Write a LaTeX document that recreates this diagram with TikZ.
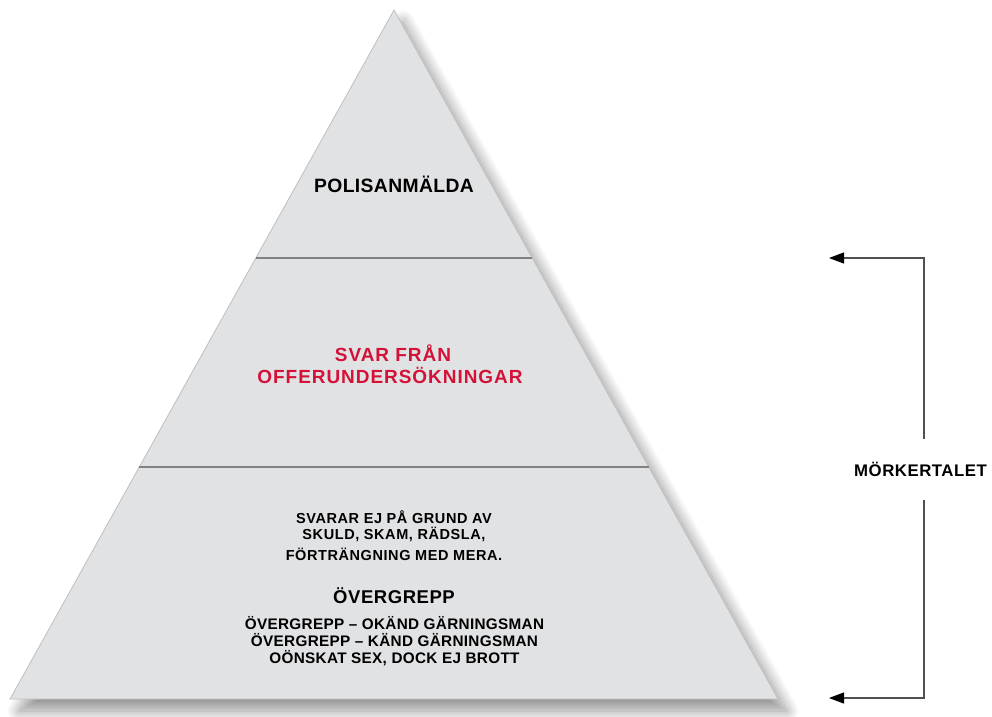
\documentclass[tikz,border=0pt]{standalone}
\usepackage{fontspec}
\setmainfont{Liberation Sans}
\usetikzlibrary{shadows.blur,arrows.meta}
\definecolor{pyrfill}{RGB}{225,226,228}
\definecolor{pyredge}{RGB}{190,191,193}
\definecolor{divgray}{RGB}{128,129,131}
\definecolor{arrgray}{RGB}{80,80,80}
\definecolor{txtred}{RGB}{212,18,56}
\tikzset{
  pyramid/.style={fill=pyrfill, draw=pyredge, line width=0.8pt,
    blur shadow={shadow xshift=9pt, shadow yshift=-12pt, shadow blur radius=12pt, shadow blur steps=24, shadow opacity=42}},
  divider/.style={draw=divgray, line width=2.8pt},
  lbl/.style={inner sep=0pt, anchor=base, font=\bfseries},
  sz19/.style={font=\fontsize{19.3}{22}\selectfont\bfseries\addfontfeature{LetterSpace=2}},
  szred/.style={font=\fontsize{19}{22}\selectfont\bfseries\addfontfeature{LetterSpace=5}, text=txtred},
  szsmall/.style={font=\fontsize{14.5}{17}\selectfont\bfseries\addfontfeature{LetterSpace=4}},
  szmid/.style={font=\fontsize{18.5}{22}\selectfont\bfseries\addfontfeature{LetterSpace=3}},
  szlist/.style={font=\fontsize{15.3}{17}\selectfont\bfseries\addfontfeature{LetterSpace=2}},
  szside/.style={font=\fontsize{16.8}{20}\selectfont\bfseries\addfontfeature{LetterSpace=3}},
  arrline/.style={draw=arrgray, line width=1.2pt},
  arrtip/.style={arrline, -{Triangle[length=15pt,width=11pt,fill=black,color=black]}}
}
\begin{document}
\begin{tikzpicture}[x=1pt,y=-1pt]
\useasboundingbox (0,0) rectangle (992,716);
% pyramid
\coordinate (apex) at (394,10);
\coordinate (bl) at (10,699);
\coordinate (br) at (778,699);
\path[pyramid] (apex) -- (br) -- (bl) -- cycle;
% dividers
\coordinate (d1l) at ($(apex)!0.36!(bl)$);
\coordinate (d1r) at ($(apex)!0.36!(br)$);
\coordinate (d2l) at ($(apex)!0.6633!(bl)$);
\coordinate (d2r) at ($(apex)!0.6633!(br)$);
\draw[divider] (d1l) -- (d1r);
\draw[divider] (d2l) -- (d2r);
% texts
\node[lbl, sz19] (polis) at (394,192) {POLISANMÄLDA};
\node[lbl, szred] (svar1) at (393,361) {SVAR FRÅN};
\node[lbl, szred] (svar2) at (390,383) {OFFERUNDERSÖKNINGAR};
\node[lbl, szsmall] (s1) at (394,523) {SVARAR EJ PÅ GRUND AV};
\node[lbl, szsmall] (s2) at (394,539) {SKULD, SKAM, RÄDSLA,};
\node[lbl, szsmall] (s3) at (394,560) {FÖRTRÄNGNING MED MERA.};
\node[lbl, szmid] (over) at (394,603) {ÖVERGREPP};
\node[lbl, szlist] (l1) at (394.5,629) {ÖVERGREPP – OKÄND GÄRNINGSMAN};
\node[lbl, szlist] (l2) at (394.5,646) {ÖVERGREPP – KÄND GÄRNINGSMAN};
\node[lbl, szlist] (l3) at (394.5,663) {OÖNSKAT SEX, DOCK EJ BROTT};
% side bracket
\node[lbl, szside] (mork) at (920.5,476) {MÖRKERTALET};
\coordinate (vtopend) at (924,439);
\coordinate (vcorn1) at (924,258);
\coordinate (tip1) at (829,258);
\coordinate (vbotstart) at (924,500);
\coordinate (vcorn2) at (924,698);
\coordinate (tip2) at (829,698);
\draw[arrtip] (vtopend) -- (vcorn1) -- (tip1);
\draw[arrtip] (vbotstart) -- (vcorn2) -- (tip2);
\end{tikzpicture}
\end{document}
